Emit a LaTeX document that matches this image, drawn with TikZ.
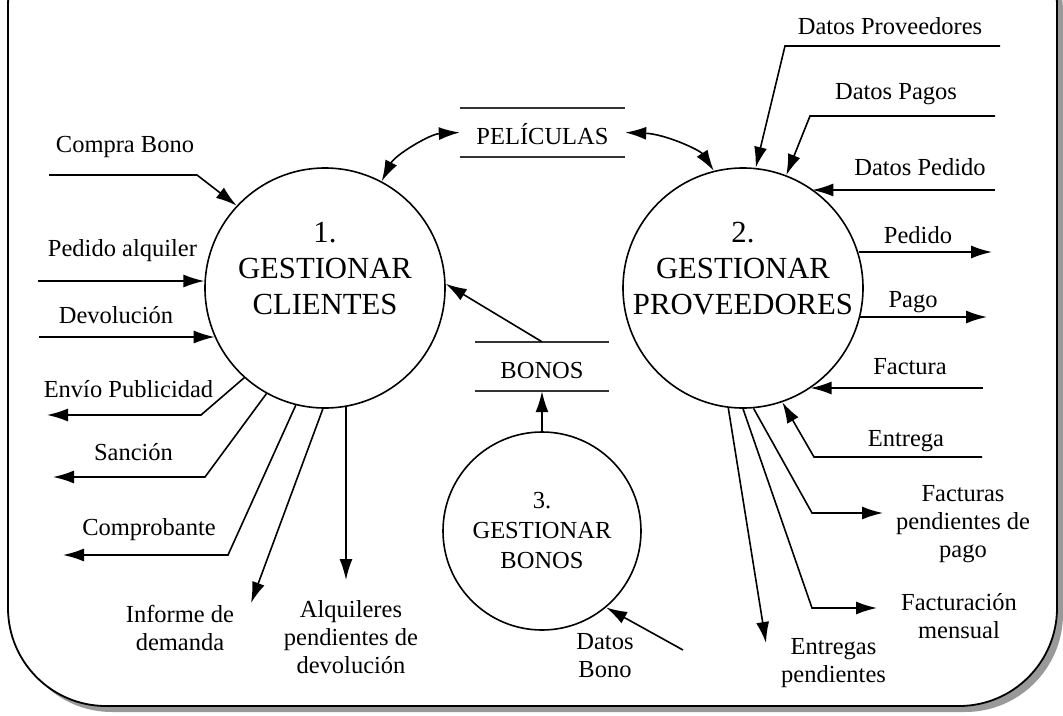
\documentclass[tikz,border=0pt]{standalone}
\usepackage{fontspec}
\setmainfont{Liberation Serif}
\usetikzlibrary{arrows.meta, shapes}
\definecolor{shadowgray}{gray}{0.6}
\tikzstyle{proc}=[draw, circle, line width=1.6pt, inner sep=0, minimum size=240pt]
\tikzstyle{ptext}=[font=\fontsize{30.7}{36}\selectfont, align=center, inner sep=0]
\tikzstyle{store}=[font=\fontsize{24.5}{28}\selectfont, inner sep=0, minimum height=49pt,
		text height=24pt, text depth=0pt]
\tikzstyle{sline}=[line width=1.6pt, draw=black!80]
\tikzstyle{lbl}=[font=\fontsize{24.5}{28}\selectfont, align=center, anchor=base, inner sep=0]
\tikzstyle{flow}=[-{Latex[length=21pt, width=13pt]}, line width=1.6pt]
\tikzstyle{dflow}=[{Latex[length=21pt, width=13pt]}-{Latex[length=21pt, width=13pt]}, line width=1.6pt]

\begin{document}
\begin{tikzpicture}[x=1pt, y=-1pt]
        \useasboundingbox (0,0) rectangle (1063,715);
        \clip (0,0) rectangle (1063,715);
        \fill[shadowgray, rounded corners=98pt] (14,-86) rectangle (1063,712);
        \draw[fill=white, line width=1.8pt, rounded corners=98pt] (8,-92) rectangle (1057,706);

        \node[proc] (c1) at (325,288) {};
        \node[proc] (c2) at (743,288) {};
        \node[proc, minimum size=198pt, font=\fontsize{24.5}{30}\selectfont, align=center] (c3) at (542,531) {3.\\GESTIONAR\\BONOS};
        \node[ptext] (c1t) at (325,269) {1.\\GESTIONAR\\CLIENTES};
        \node[ptext] (c2t) at (743,269) {2.\\GESTIONAR\\PROVEEDORES};

        \node[store, minimum width=165pt] (pel) at (542.5,132.5) {PELÍCULAS};
        \node[store, minimum width=134pt, text height=23pt] (bon) at (542,366.5) {BONOS};
        \draw[sline] (pel.north west) -- (pel.north east) (pel.south west) -- (pel.south east);
        \draw[sline] (bon.north west) -- (bon.north east) (bon.south west) -- (bon.south east);

        \coordinate (cb) at (49,175);
        \coordinate (pa) at (38,281);
        \coordinate (dev) at (39,337);
        \coordinate (envp) at (47,415);
        \coordinate (san) at (53,477);
        \coordinate (comp) at (63,555);
        \coordinate (inf) at (251,603);
        \coordinate (alq) at (345,580);
        \coordinate (db) at (683,650);
        \draw[flow] (cb) -- (197,175) -- (c1.137);
        \draw[flow] (pa) -- (c1.177 |- pa);
        \draw[flow] (dev) -- (c1.204 |- dev);
        \draw[flow] (c1.228) -- (201,415) -- (envp);
        \draw[flow] (c1.241) -- (205,477) -- (san);
        \draw[flow] (c1.256) -- (228,555) -- (comp);
        \draw[flow] (c1.269) -- (inf);
        \draw[flow] (c1.280) -- (c1.280 |- alq);
        \draw[flow] (bon.north) -- (c1.2);
        \draw[flow] (c3.north) -- (bon.south);
        \draw[flow] (db) -- (c3.310);
        \draw[dflow] (c1.62) .. controls (395,155) and (430,134) .. (pel.west);
        \draw[dflow] (pel.east) .. controls (665,134) and (700,150) .. (c2.104);

        \coordinate (dprov) at (1000,46);
        \coordinate (dpag) at (995,116);
        \coordinate (dped) at (995,190);
        \coordinate (ped) at (992,252);
        \coordinate (pago) at (987,317);
        \coordinate (fac) at (983,388);
        \coordinate (ent) at (982,457);
        \coordinate (fpp) at (883,513);
        \coordinate (fme) at (877,608);
        \coordinate (epe) at (766,643);
        \draw[flow] (dprov) -- (785,46) -- (c2.84);
        \draw[flow] (dpag) -- (810,116) -- (c2.69);
        \draw[flow] (dped) -- (c2.55 |- dped);
        \draw[flow] (c2.17 |- ped) -- (ped);
        \draw[flow] (c2.346 |- pago) -- (pago);
        \draw[flow] (fac) -- (c2.304 |- fac);
        \draw[flow] (ent) -- (814,457) -- (c2.289);
        \draw[flow] (c2.275) -- (812,513) -- (fpp);
        \draw[flow] (c2.270) -- (812,608) -- (fme);
        \draw[flow] (c2.263) -- (epe);

        \node[lbl] (lcb) at (125,152) {Compra Bono};
        \node[lbl] (lpa) at (122.5,256) {Pedido alquiler};
        \node[lbl] (ldev) at (116,323) {Devolución};
        \node[lbl] (lenvp) at (128.5,397) {Envío Publicidad};
        \node[lbl] (lsan) at (133.5,460) {Sanción};
        \node[lbl] (lcomp) at (149,535) {Comprobante};
        \node[lbl] (linf) at (180,650) {Informe de\\demanda};
        \node[lbl] (lalq) at (351,673) {Alquileres\\pendientes de\\devolución};
        \node[lbl] (ldb) at (605,677) {Datos\\Bono};
        \node[lbl] (ldprov) at (890,34) {Datos Proveedores};
        \node[lbl] (ldpag) at (896,99) {Datos Pagos};
        \node[lbl] (ldped) at (920,175) {Datos Pedido};
        \node[lbl] (lped) at (918,243) {Pedido};
        \node[lbl] (lpago) at (913,307) {Pago};
        \node[lbl] (lfac) at (910,374) {Factura};
        \node[lbl] (lent) at (906,446) {Entrega};
        \node[lbl] (lfpp) at (963,557) {Facturas\\pendientes de\\pago};
        \node[lbl] (lfme) at (959,638) {Facturación\\mensual};
        \node[lbl] (lepe) at (833.5,682) {Entregas\\pendientes};
\end{tikzpicture}
\end{document}
